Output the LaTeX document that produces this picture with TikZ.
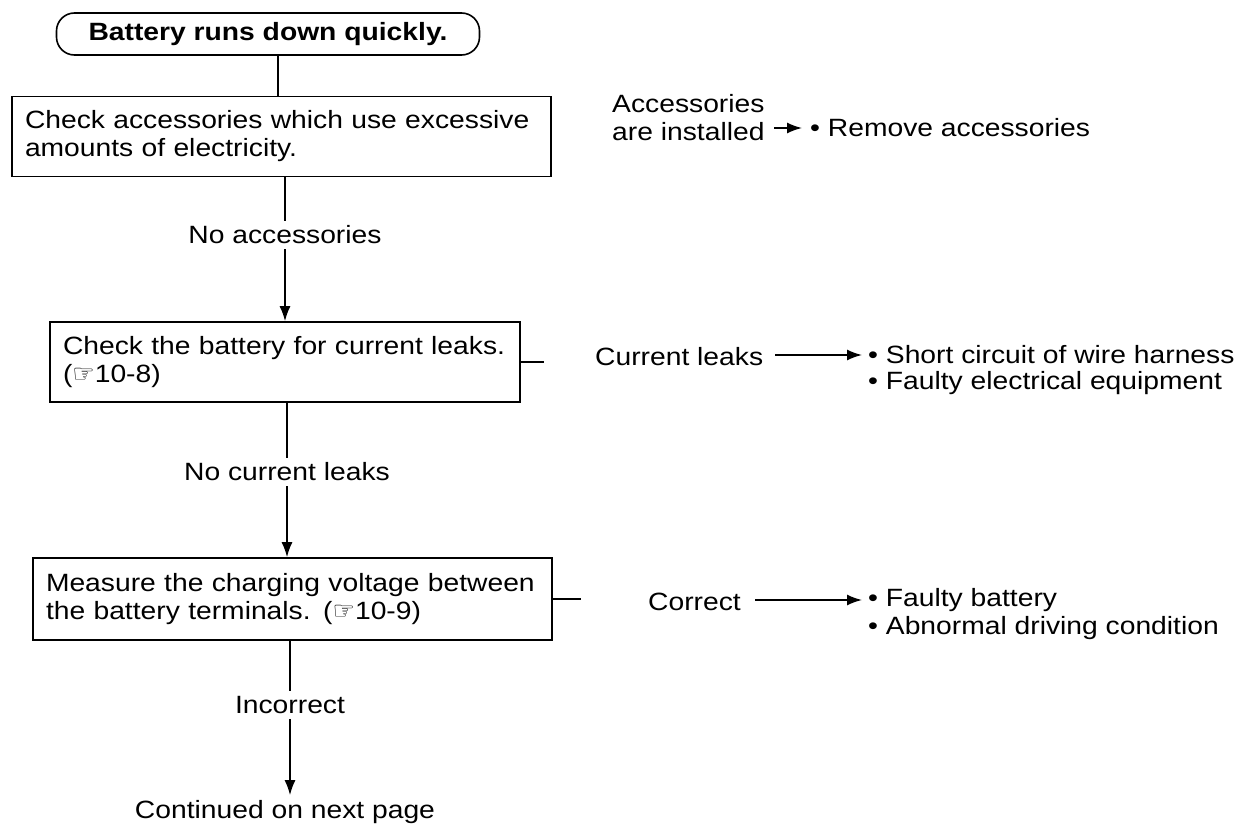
\documentclass[tikz,border=0pt]{standalone}
\usepackage{fontspec}
\setmainfont{Liberation Sans}[FakeStretch=1.13]
\newfontfamily\symfont{DejaVu Sans}
\usetikzlibrary{arrows.meta}
\newcommand\fsz{\fontsize{25}{28}\selectfont}
\tikzset{
  ln/.style={line width=1.6pt},
  arr/.style={line width=1.6pt,-{Latex[length=15pt,width=11pt]}},
  oval/.style={draw,line width=1.6pt,rounded corners=18pt,minimum width=423pt,minimum height=42pt,font=\fsz\bfseries},
  box/.style={draw,line width=1.6pt,align=left,inner xsep=13pt,inner ysep=4pt},
  lab/.style={inner sep=5pt},
  res/.style={anchor=west,inner sep=0pt,align=left},
}
\begin{document}
\begin{tikzpicture}[x=1pt,y=-1pt,font=\fsz]
\useasboundingbox (0,0) rectangle (1248,827);
% main column
\node[oval] (start) at (268,34) {Battery runs down quickly.};
\node[box,minimum width=539pt,minimum height=80pt,text width=513pt] (b1) at (281.5,136.5)
  {\mbox{Check accessories which use excessive}\\\mbox{amounts of electricity.}};
\node[lab] (l1) at (285,235) {No accessories};
\node[box,minimum width=470pt,minimum height=80pt,text width=444pt] (b2) at (285,362)
  {\mbox{Check the battery for current leaks.}\\({\symfont ☞}10-8)};
\node[lab] (l2) at (287,472) {No current leaks};
\node[box,minimum width=519pt,minimum height=82pt,text width=493pt] (b3) at (292.5,599)
  {\mbox{Measure the charging voltage between}\\\mbox{the battery terminals. ({\symfont ☞}10-9)}};
\node[lab] (l3) at (290,705) {Incorrect};
\node[lab] (cont) at (285,812) {Continued on next page};
% connectors
\draw[ln] ([xshift=10pt]start.south) -- ([xshift=10pt]start.south |- b1.north);
\draw[ln] (l1.north |- b1.south) -- (l1.north);
\draw[arr] (l1.south) -- (l1.south |- b2.north);
\draw[ln] (b2.east) -- ++(23,0) coordinate (s2);
\draw[ln] (l2.north |- b2.south) -- (l2.north);
\draw[arr] (l2.south) -- (l2.south |- b3.north);
\draw[ln] (b3.east) -- ++(28,0) coordinate (s3);
\draw[ln] (l3.north |- b3.south) -- (l3.north);
\draw[arr] (l3.south) -- (l3.south |- cont.north);
% right side
\node[res] (acc) at (612,118) {Accessories\\are installed};
\node[res] (rem) at (810,128) {• Remove accessories};
\draw[arr] ([xshift=-36pt]rem.west) -- ([xshift=-8pt]rem.west);
\node[res] (cl) at (595,357) {Current leaks};
\node[res] (r2a) at (868,355) {• Short circuit of wire harness};
\node[res] (r2b) at (868,383) {• Faulty electrical equipment};
\draw[arr] ([xshift=12pt]cl.east |- r2a.west) -- ([xshift=-6pt]r2a.west);
\node[res] (cor) at (648,602) {Correct};
\node[res] (r3a) at (868,600) {• Faulty battery};
\node[res] (r3b) at (868,628) {• Abnormal driving condition};
\draw[arr] ([xshift=14pt]cor.east |- r3a.west) -- ([xshift=-6pt]r3a.west);
\end{tikzpicture}
\end{document}
